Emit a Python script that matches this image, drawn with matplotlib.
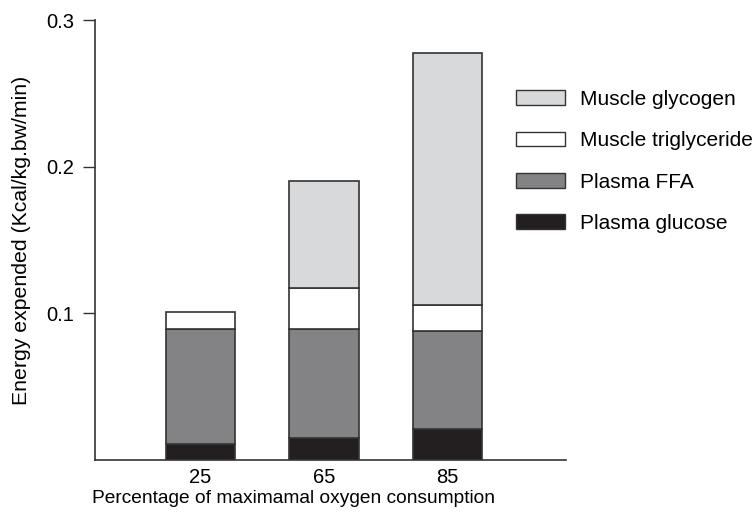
import numpy as np
import matplotlib.pyplot as plt
from matplotlib.patches import Patch

plt.rcParams['font.family'] = ['Liberation Sans', 'DejaVu Sans']

# data
intensity = ['25', '65', '85']
plasma_glucose = [0.0107, 0.0152, 0.0211]
plasma_ffa = [0.0789, 0.0739, 0.0669]
muscle_trig = [0.0113, 0.0284, 0.0180]
muscle_glycogen = [0.0, 0.0725, 0.1716]

colors = {'glycogen': '#d8d9db', 'trig': '#ffffff', 'ffa': '#838386', 'glucose': '#231f20'}
edge = '#333333'

fig = plt.figure(figsize=(7.56, 5.17), dpi=100)
ax = fig.add_axes([0.1257, 0.1103, 0.623, 0.851])

x = np.arange(len(intensity))
w = 0.56
b1 = np.array(plasma_glucose)
b2 = b1 + np.array(plasma_ffa)
b3 = b2 + np.array(muscle_trig)

ax.bar(x, plasma_glucose, w, color=colors['glucose'], edgecolor=edge, linewidth=1.2)
ax.bar(x, plasma_ffa, w, bottom=b1, color=colors['ffa'], edgecolor=edge, linewidth=1.2)
ax.bar(x, muscle_trig, w, bottom=b2, color=colors['trig'], edgecolor=edge, linewidth=1.2)
gly = np.array(muscle_glycogen)
ax.bar(x[gly > 0], gly[gly > 0], w, bottom=b3[gly > 0], color=colors['glycogen'], edgecolor=edge, linewidth=1.2)

ax.set_xlim(-0.854, 2.96)
ax.set_ylim(0, 0.3)
ax.set_yticks([0.1, 0.2, 0.3])
ax.set_yticklabels(['0.1', '0.2', '0.3'])
ax.set_xticks(x)
ax.set_xticklabels(intensity)
ax.tick_params(axis='y', direction='out', length=9, width=1, color='#333333', labelsize=14.5, pad=6)
ax.tick_params(axis='x', length=0, labelsize=14.5, pad=6)
for s in ['top', 'right']:
    ax.spines[s].set_visible(False)
for s in ['left', 'bottom']:
    ax.spines[s].set_color('#333333')
    ax.spines[s].set_linewidth(1.2)

ax.set_xlabel('Percentage of maximamal oxygen consumption', fontsize=13.8)
ax.xaxis.set_label_coords(0.421, -0.069)
ax.yaxis.set_label_coords(-0.135, 0.5)
ax.set_ylabel('Energy expended (Kcal/kg.bw/min)', fontsize=15.3)

handles = [Patch(facecolor=colors['glycogen'], edgecolor=edge),
           Patch(facecolor=colors['trig'], edgecolor=edge),
           Patch(facecolor=colors['ffa'], edgecolor=edge),
           Patch(facecolor=colors['glucose'], edgecolor=edge)]
labels = ['Muscle glycogen', 'Muscle triglyceride', 'Plasma FFA', 'Plasma glucose']
fig.legend(handles, labels, loc='upper left', bbox_to_anchor=(0.683, 0.826),
           frameon=False, fontsize=15, handlelength=2.35, handleheight=0.72,
           handletextpad=0.7, labelspacing=1.07, borderaxespad=0, borderpad=0)

fig.savefig('out.png', dpi=100)
